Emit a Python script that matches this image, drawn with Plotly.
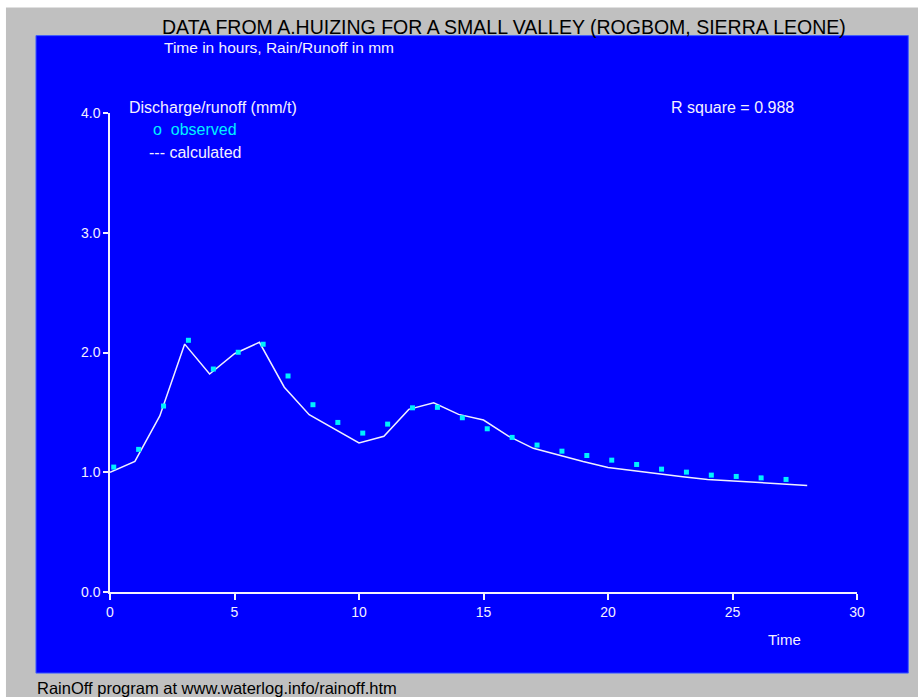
import plotly.graph_objects as go

# ---- data ----
obs_time = [0.15, 1.15, 2.15, 3.15, 4.15, 5.15, 6.15, 7.15, 8.15, 9.15, 10.15, 11.15, 12.15, 13.15,
            14.15, 15.15, 16.15, 17.15, 18.15, 19.15, 20.15, 21.15, 22.15, 23.15, 24.15, 25.15, 26.15, 27.15]
obs_runoff = [1.043, 1.191, 1.553, 2.102, 1.862, 2.002, 2.069, 1.804, 1.564, 1.416, 1.327, 1.402, 1.538, 1.542,
              1.455, 1.363, 1.291, 1.227, 1.176, 1.140, 1.101, 1.065, 1.026, 1.001, 0.976, 0.965, 0.953, 0.940]
calc_time = list(range(0, 29))
calc_runoff = [1.00, 1.09, 1.47, 2.07, 1.82, 1.99, 2.085, 1.71, 1.48, 1.36, 1.245, 1.30, 1.525, 1.58,
               1.483, 1.436, 1.302, 1.20, 1.143, 1.09, 1.04, 1.012, 0.99, 0.962, 0.94, 0.926, 0.915, 0.903, 0.89]
x_ticks = [0, 5, 10, 15, 20, 25, 30]
y_ticks = [0.0, 1.0, 2.0, 3.0, 4.0]

W, H = 918, 697
L, R, T, B = 110, 856.7, 113.3, 591.7
PW, PH = R - L, B - T

def px(x):
    return (x - L) / PW

def py(y):
    return (B - y) / PH

FONT = "Liberation Sans, Arial, sans-serif"
WHITE = "#F4F0FF"
BLUE = "#0000FF"

fig = go.Figure()
fig.add_trace(go.Scatter(x=calc_time, y=calc_runoff, mode="lines",
                         line=dict(color="#F0F0FF", width=1.5), hoverinfo="skip", showlegend=False))
fig.add_trace(go.Scatter(x=obs_time, y=obs_runoff, mode="markers",
                         marker=dict(symbol="square", size=5, color="#00F0FF", line=dict(width=0)),
                         showlegend=False))

shapes = [
    dict(type="rect", xref="paper", yref="paper", x0=px(0), x1=px(6), y0=py(0), y1=py(H),
         fillcolor="white", line=dict(width=0), layer="below"),
    dict(type="rect", xref="paper", yref="paper", x0=px(0), x1=px(W), y0=py(0), y1=py(8),
         fillcolor="white", line=dict(width=0), layer="below"),
    dict(type="rect", xref="paper", yref="paper", x0=px(36), x1=px(908), y0=py(36), y1=py(672.7),
         fillcolor=BLUE, line=dict(color="#4060FF", width=1), layer="below"),
]

def ann(text, x, y, color=WHITE, size=14, xanchor="left"):
    return dict(text=text, x=px(x), y=py(y), xref="paper", yref="paper", showarrow=False,
                xanchor=xanchor, yanchor="middle", font=dict(family=FONT, size=size, color=color))

annotations = [
    ann("DATA FROM A.HUIZING FOR A SMALL VALLEY (ROGBOM, SIERRA LEONE)", 160, 27, color="#000000", size=19.5),
    ann("Time in hours, Rain/Runoff in mm", 162, 48, size=15.5),
    ann("Discharge/runoff (mm/t)", 127, 108, size=16),
    ann("o  observed", 151, 130, color="#00F0FF", size=16),
    ann("--- calculated", 147, 153, size=16),
    ann("R square = 0.988", 669, 108, size=16),
    ann("Time", 766, 639, size=15),
    ann("RainOff program at www.waterlog.info/rainoff.htm", 35, 688, color="#000000", size=16.5),
]

fig.update_layout(
    width=W, height=H,
    margin=dict(l=L, r=W - R, t=T, b=H - B, pad=0),
    paper_bgcolor="#C0C0C0",
    plot_bgcolor="rgba(0,0,0,0)",
    shapes=shapes,
    annotations=annotations,
    xaxis=dict(range=[0, 30], tickvals=x_ticks, ticktext=[str(v) for v in x_ticks],
               showgrid=False, zeroline=False, showline=True, linecolor=WHITE, linewidth=1.5,
               ticks="outside", ticklen=6, tickwidth=1.5, tickcolor=WHITE,
               tickfont=dict(family=FONT, size=14, color=WHITE), fixedrange=True),
    yaxis=dict(range=[0, 4], tickvals=y_ticks, ticktext=[f"{v:.1f}" for v in y_ticks],
               showgrid=False, zeroline=False, showline=True, linecolor=WHITE, linewidth=1.5,
               ticks="outside", ticklen=5, tickwidth=1.5, tickcolor=WHITE,
               tickfont=dict(family=FONT, size=14, color=WHITE), fixedrange=True),
)

fig.write_html("out.html")
